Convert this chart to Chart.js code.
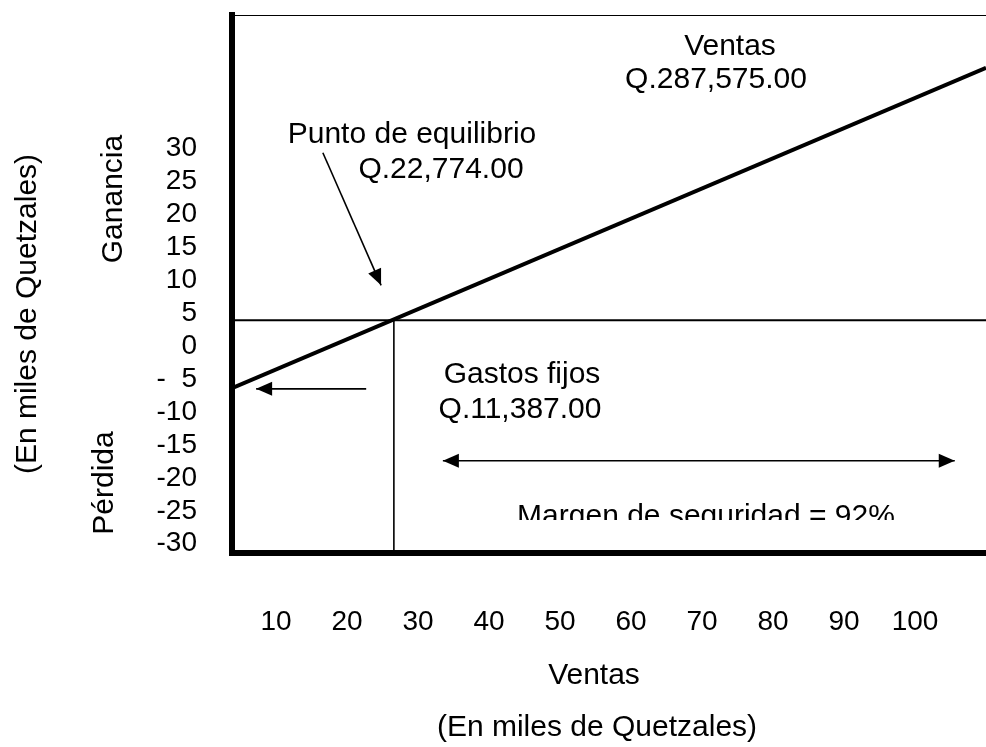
<!DOCTYPE html>
<html>
<head>
<meta charset="utf-8">
<script src="https://cdn.jsdelivr.net/npm/chart.js@4.4.0/dist/chart.umd.min.js"></script>
<style>
  html, body { margin: 0; padding: 0; background: #fff; }
  #wrap { width: 986px; height: 747px; }
</style>
</head>
<body>
<div id="wrap"><canvas id="chartCanvas" width="986" height="747"></canvas></div>
<script>
// axis ticks (miles de Quetzales)
const xTicks = [10, 20, 30, 40, 50, 60, 70, 80, 90, 100];
const yTicks = [30, 25, 20, 15, 10, 5, 0, -5, -10, -15, -20, -25, -30];
const yTickLabels = ["30", "25", "20", "15", "10", "5", "0", "-\u00a0\u00a05", "-10", "-15", "-20", "-25", "-30"];

// scale limits
const xMin = 3.8, xMax = 110;
const yMin = -31.4, yMax = 50.2;

// lines of the diagram
const ventasLine = [{ x: 3.8, y: -6.4 }, { x: 110, y: 42.2 }];
const equilibrioH = [{ x: 3.8, y: 3.9 }, { x: 110, y: 3.9 }];
const equilibrioV = [{ x: 26.6, y: 3.9 }, { x: 26.6, y: -31.4 }];
const topLine = [{ x: 3.8, y: 50.2 }, { x: 110, y: 50.2 }];

// arrows [from, to], double = heads at both ends
const arrowEquilibrio = [[16.6, 29.3], [24.8, 9.2]];
const arrowGastos = [[22.7, -6.5], [7.2, -6.5]];
const arrowMargen = [[33.5, -17.4], [105.6, -17.4]];

const FONT = '"Liberation Sans", Arial, sans-serif';

const notes = [
  { text: "Ventas", x: 730, y: 55 },
  { text: "Q.287,575.00", x: 716, y: 88 },
  { text: "Punto de equilibrio", x: 412, y: 143 },
  { text: "Q.22,774.00", x: 441, y: 178 },
  { text: "Gastos fijos", x: 522, y: 383 },
  { text: "Q.11,387.00", x: 520, y: 418 },
  { text: "Ventas", x: 594, y: 684 },
  { text: "(En miles de Quetzales)", x: 597, y: 736 }
];
const sideNotes = [
  { text: "(En miles de Quetzales)", x: 36, y: 314 },
  { text: "Ganancia", x: 122, y: 199 },
  { text: "Pérdida", x: 113, y: 483 }
];

function drawArrow(ctx, x1, y1, x2, y2, both) {
  const head = (tx, ty, fx, fy) => {
    const a = Math.atan2(ty - fy, tx - fx);
    const len = 16, half = 7;
    ctx.beginPath();
    ctx.moveTo(tx, ty);
    ctx.lineTo(tx - len * Math.cos(a) + half * Math.sin(a), ty - len * Math.sin(a) - half * Math.cos(a));
    ctx.lineTo(tx - len * Math.cos(a) - half * Math.sin(a), ty - len * Math.sin(a) + half * Math.cos(a));
    ctx.closePath();
    ctx.fill();
  };
  ctx.beginPath();
  ctx.moveTo(x1, y1);
  ctx.lineTo(x2, y2);
  ctx.stroke();
  head(x2, y2, x1, y1);
  if (both) head(x1, y1, x2, y2);
}

const annotations = {
  id: "annotations",
  afterDraw(chart) {
    const { ctx, scales: { x, y } } = chart;
    const px = p => [x.getPixelForValue(p[0]), y.getPixelForValue(p[1])];
    ctx.save();
    ctx.strokeStyle = "#000";
    ctx.fillStyle = "#000";
    ctx.lineWidth = 1.6;
    let a = px(arrowEquilibrio[0]), b = px(arrowEquilibrio[1]);
    drawArrow(ctx, a[0], a[1], b[0], b[1], false);
    a = px(arrowGastos[0]); b = px(arrowGastos[1]);
    drawArrow(ctx, a[0], a[1], b[0], b[1], false);
    a = px(arrowMargen[0]); b = px(arrowMargen[1]);
    drawArrow(ctx, a[0], a[1], b[0], b[1], true);

    ctx.font = "30px " + FONT;
    ctx.textAlign = "center";
    ctx.textBaseline = "alphabetic";
    notes.forEach(n => ctx.fillText(n.text, n.x, n.y));

    // text box cut at the bottom, like the original
    ctx.save();
    ctx.beginPath();
    ctx.rect(400, 480, 560, 40);
    ctx.clip();
    ctx.fillText("Margen de seguridad = 92%", 706, 525);
    ctx.restore();

    sideNotes.forEach(n => {
      ctx.save();
      ctx.translate(n.x, n.y);
      ctx.rotate(-Math.PI / 2);
      ctx.fillText(n.text, 0, 0);
      ctx.restore();
    });
    ctx.restore();
  }
};

const lineSet = (data, width) => ({
  data,
  showLine: true,
  borderColor: "#000",
  borderWidth: width,
  pointRadius: 0,
  fill: false
});

new Chart(document.getElementById("chartCanvas"), {
  type: "scatter",
  data: {
    datasets: [
      lineSet(topLine, 2),
      lineSet(equilibrioH, 2),
      lineSet(equilibrioV, 1.6),
      lineSet(ventasLine, 4)
    ]
  },
  options: {
    responsive: false,
    animation: false,
    events: [],
    layout: { padding: { top: 15, right: 0, bottom: 0, left: 0 } },
    plugins: { legend: { display: false }, tooltip: { enabled: false } },
    scales: {
      x: {
        type: "linear",
        min: xMin,
        max: xMax,
        grid: { display: false, drawTicks: false },
        border: { display: true, width: 6, color: "#000" },
        afterBuildTicks: s => { s.ticks = xTicks.map(v => ({ value: v })); },
        afterFit: s => {
          s.height = 747 - 553;
          s.paddingLeft = 0; s.paddingRight = 0; s.paddingTop = 0; s.paddingBottom = 0;
        },
        ticks: {
          autoSkip: false,
          maxRotation: 0,
          padding: 52,
          color: "#000",
          font: { family: FONT, size: 28 },
          callback: v => String(v)
        }
      },
      y: {
        type: "linear",
        min: yMin,
        max: yMax,
        grid: { display: false, drawTicks: false },
        border: { display: true, width: 6, color: "#000" },
        afterBuildTicks: s => { s.ticks = yTicks.map(v => ({ value: v })); },
        afterFit: s => {
          s.width = 232;
          s.paddingLeft = 0; s.paddingRight = 0; s.paddingTop = 0; s.paddingBottom = 0;
        },
        ticks: {
          padding: 35,
          color: "#000",
          font: { family: FONT, size: 28 },
          callback: v => yTickLabels[yTicks.indexOf(v)]
        }
      }
    }
  },
  plugins: [annotations]
});
</script>
</body>
</html>
